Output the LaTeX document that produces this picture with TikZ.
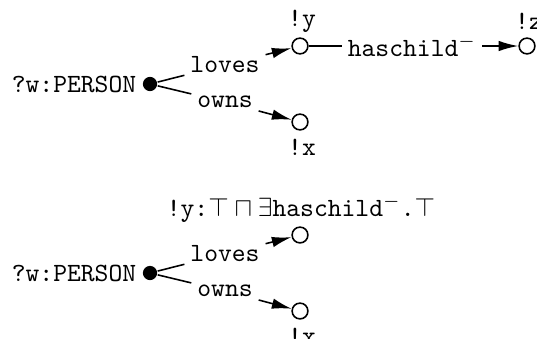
\documentclass[tikz,border=0pt]{standalone}
\usetikzlibrary{arrows.meta}

\begin{document}
\begin{tikzpicture}[x=0.38pt, y=-0.38pt, font=\ttfamily, line width=0.6pt,
	var/.style={circle, fill, inner sep=0pt, minimum size=5.4pt},
	obj/.style={circle, draw, inner sep=0pt, minimum size=6pt},
	rel/.style={inner sep=2pt},
	arr/.style={-{Latex[length=7.5pt, width=4pt]}}]
	\useasboundingbox (0, 0) rectangle (537, 339);

	% upper graph
	\node (w1) at (74, 84) {?w:PERSON};
	\node [var] (d1) at (150, 84) {};
	\node [rel] (loves1) at (225, 65) {loves};
	\node [rel] (owns1) at (225, 102) {owns};
	\node [obj] (y1) at (300, 46) {};
	\node [obj] (x1) at (300, 122) {};
	\node [obj] (z1) at (527, 46) {};
	\node [rel] (hc1) at (412, 46) {haschild$^-$};
	\node (ylab1) at (302, 21) {!y};
	\node (xlab1) at (302, 147) {!x};
	\node (zlab1) at (529, 21) {!z};

	\draw (d1) -- (loves1);
	\draw (d1) -- (owns1);
	\draw [arr] (loves1) -- (y1);
	\draw [arr] (owns1) -- (x1);
	\draw (y1) -- (hc1);
	\draw [arr] (hc1) -- (z1);

	% lower graph
	\node (w2) at (74, 273) {?w:PERSON};
	\node [var] (d2) at (150, 273) {};
	\node [rel] (loves2) at (225, 254) {loves};
	\node [rel] (owns2) at (225, 291) {owns};
	\node [obj] (y2) at (300, 235) {};
	\node [obj] (x2) at (300, 311) {};
	\node (ylab2) at (301, 209) {!y:$\top\sqcap\exists$haschild$^-$.$\top$};
	\node (xlab2) at (302, 336) {!x};

	\draw (d2) -- (loves2);
	\draw (d2) -- (owns2);
	\draw [arr] (loves2) -- (y2);
	\draw [arr] (owns2) -- (x2);
\end{tikzpicture}
\end{document}
